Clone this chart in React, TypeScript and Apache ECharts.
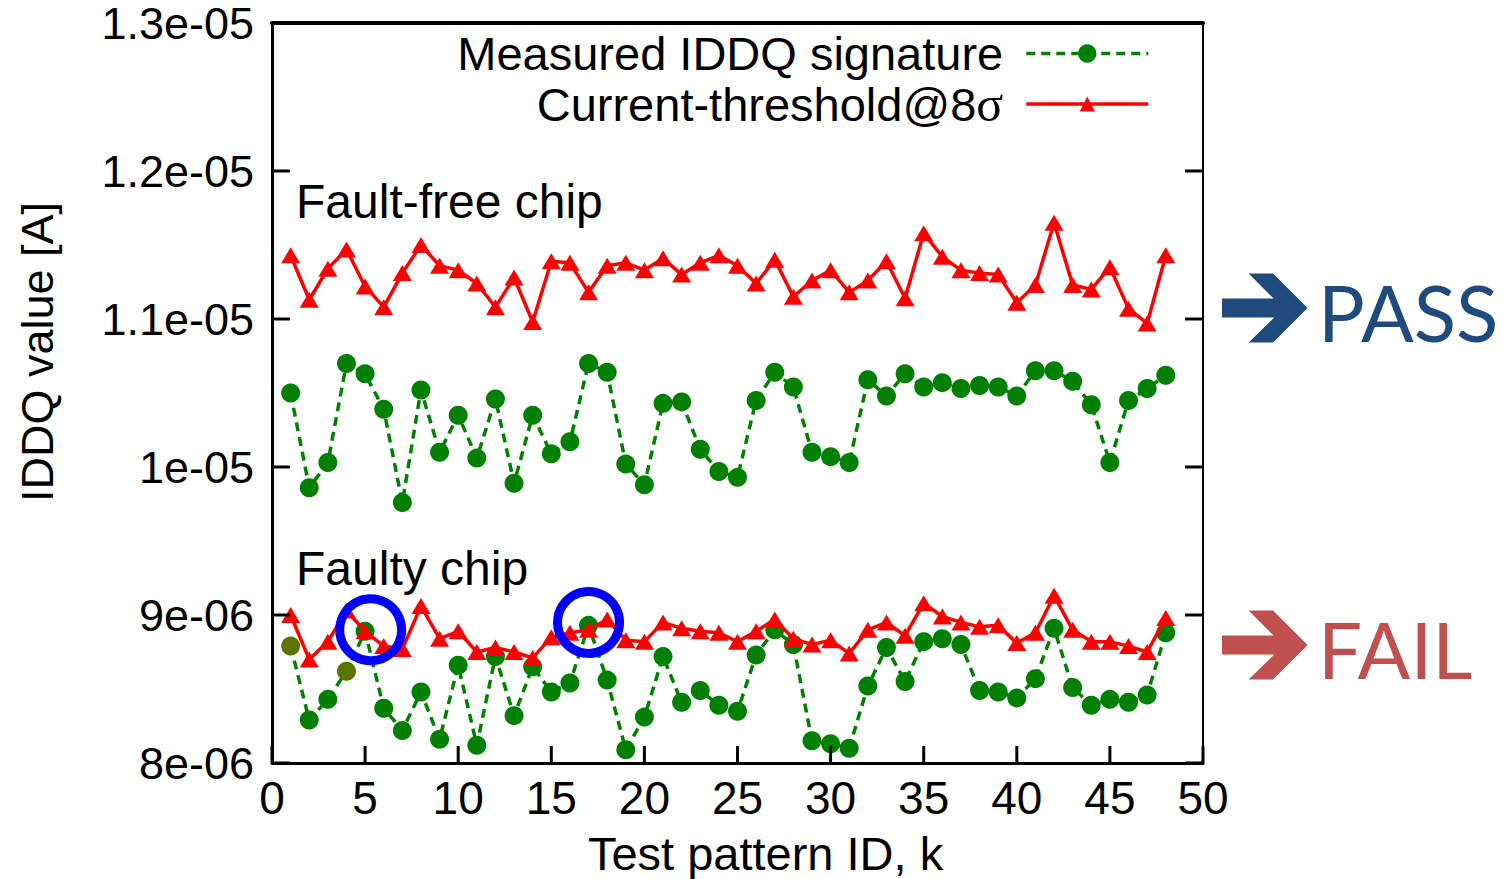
import React, { useEffect, useRef } from "react";
import * as echarts from "echarts";

// Test pattern IDs (k) on the x axis
const patternIds = [
  1, 2, 3, 4, 5, 6, 7, 8, 9, 10, 11, 12, 13, 14, 15, 16, 17, 18, 19, 20, 21, 22, 23, 24,
  25, 26, 27, 28, 29, 30, 31, 32, 33, 34, 35, 36, 37, 38, 39, 40, 41, 42, 43, 44, 45, 46, 47, 48,
];

// All current values below are in microamperes (scaled to amperes when plotted)
const faultFreeThreshold = [
  11.43, 11.13, 11.34, 11.47, 11.22, 11.08, 11.31, 11.5, 11.36, 11.33,
  11.24, 11.08, 11.28, 10.98, 11.39, 11.38, 11.18, 11.36, 11.38, 11.33,
  11.41, 11.3, 11.38, 11.43, 11.36, 11.24, 11.4, 11.15, 11.26, 11.33,
  11.18, 11.26, 11.39, 11.14, 11.58, 11.42, 11.33, 11.31, 11.3, 11.11,
  11.23, 11.65, 11.23, 11.2, 11.35, 11.07, 10.97, 11.43,
];
const faultFreeMeasured = [
  10.5, 9.86, 10.03, 10.7, 10.63, 10.39, 9.76, 10.52, 10.1, 10.35,
  10.06, 10.46, 9.89, 10.35, 10.09, 10.17, 10.7, 10.64, 10.02, 9.88,
  10.43, 10.44, 10.12, 9.97, 9.93, 10.45, 10.64, 10.54, 10.1, 10.07,
  10.03, 10.59, 10.48, 10.63, 10.54, 10.57, 10.53, 10.55, 10.54, 10.48,
  10.65, 10.65, 10.58, 10.42, 10.03, 10.45, 10.53, 10.62,
];
const faultyThreshold = [
  9.0, 8.7, 8.82, 9.03, 8.89, 8.79, 8.77, 9.06, 8.84, 8.89,
  8.75, 8.78, 8.75, 8.71, 8.85, 8.88, 8.9, 8.97, 8.83, 8.82,
  8.95, 8.91, 8.89, 8.88, 8.82, 8.89, 8.97, 8.84, 8.8, 8.83,
  8.74, 8.9, 8.95, 8.86, 9.08, 8.99, 8.95, 8.92, 8.93, 8.81,
  8.88, 9.13, 8.9, 8.82, 8.82, 8.79, 8.75, 8.98,
];
const faultyMeasured = [
  8.79, 8.29, 8.43, 8.62, 8.89, 8.37, 8.22, 8.48, 8.16, 8.66,
  8.12, 8.72, 8.32, 8.65, 8.48, 8.54, 8.93, 8.56, 8.09, 8.31,
  8.72, 8.41, 8.49, 8.39, 8.35, 8.73, 8.9, 8.8, 8.15, 8.13,
  8.1, 8.52, 8.78, 8.55, 8.82, 8.84, 8.8, 8.49, 8.48, 8.44,
  8.57, 8.91, 8.51, 8.39, 8.43, 8.41, 8.46, 8.88,
];
// Patterns whose faulty-chip markers are drawn in olive
const olivePatterns = [1, 4];
// Circled spots where the faulty chip exceeds the threshold: [k, μA]
const flaggedSpots = [
  [5.3, 8.9],
  [17.0, 8.95],
];

// Tick positions for the inward frame ticks
const xTickValues = [0, 5, 10, 15, 20, 25, 30, 35, 40, 45, 50];
const yTickValuesUA = [8, 9, 10, 11, 12, 13];

const MEASURED = "Measured IDDQ signature";
const THRESHOLD = "Current-threshold@8σ";
const SANS = "'Liberation Sans', Arial, sans-serif";

const toAmps = (ua: number) => ua * 1e-6;

const gnuplotExp = (v: number) => {
  const s = Number(v.toPrecision(6)).toExponential();
  return s.replace(/e([+-])(\d)$/, "e$10$2");
};

// Arrow outline (pixel offsets relative to the arrow's left/middle point)
const arrowShape = [
  [0, -9.5],
  [51.6, -9.5],
  [26.6, -34.5],
  [51, -34.5],
  [85.6, 0],
  [51, 34.5],
  [26.6, 34.5],
  [52.3, 9.5],
  [0, 9.5],
];
const arrowAt = (x: number, y: number) => arrowShape.map(([dx, dy]) => [x + dx, y + dy]);

// Shared y scale (amperes)
const Y_MIN = 8e-6;
const Y_MAX = 1.3e-5;
const Y_STEP = 1e-6;

// Plot frame in pixels
const GRID_LEFT = 272;
const GRID_RIGHT = 300;
const GRID_TOP = 23;
const GRID_BOTTOM = 116;
const CHART_W = 1503;
const CHART_H = 879;
const TICK_LEN = 18;

export default function App() {
  const ref = useRef<HTMLDivElement>(null);

  useEffect(() => {
    if (!ref.current) return;
    const chart = echarts.init(ref.current, undefined, { renderer: "svg" });

    const measuredLine = {
      color: "#008000",
      width: 3.5,
      type: [9, 6] as number[],
    };
    const thresholdLine = { color: "#ff0000", width: 3.5, type: "solid" as const };

    const pairs = (vals: number[]) => patternIds.map((k, i) => [k, toAmps(vals[i])]);

    const legendText = {
      fontFamily: SANS,
      fontSize: 47,
      color: "#000",
      lineHeight: 44,
      padding: [0, 18, 0, 0],
    };

    const decorations: any[] = [
      {
        type: "text",
        x: 296,
        y: 201,
        style: {
          text: "Fault-free chip",
          font: `48px ${SANS}`,
          fill: "#000",
          verticalAlign: "middle",
        },
      },
      {
        type: "text",
        x: 296,
        y: 568,
        style: {
          text: "Faulty chip",
          font: `48px ${SANS}`,
          fill: "#000",
          verticalAlign: "middle",
        },
      },
      {
        type: "polygon",
        shape: { points: arrowAt(1222, 308) },
        style: { fill: "#1f4a7d" },
      },
      {
        type: "text",
        x: 1318,
        y: 312,
        style: {
          text: "PASS",
          font: `78px Lato, 'Open Sans', sans-serif`,
          fill: "#1f4a7d",
          verticalAlign: "middle",
        },
      },
      {
        type: "polygon",
        shape: { points: arrowAt(1222, 645) },
        style: { fill: "#c0504d" },
      },
      {
        type: "text",
        x: 1318,
        y: 649,
        style: {
          text: "FAIL",
          font: `78px Lato, 'Open Sans', sans-serif`,
          fill: "#c0504d",
          verticalAlign: "middle",
        },
      },
    ];

    const option: any = {
      animation: false,
      backgroundColor: "#ffffff",
      grid: {
        left: GRID_LEFT,
        right: GRID_RIGHT,
        top: GRID_TOP,
        bottom: GRID_BOTTOM,
        show: true,
        borderColor: "#000",
        borderWidth: 2,
        containLabel: false,
        outerBoundsMode: "none",
      },
      legend: [
        {
          data: [MEASURED],
          right: 353,
          top: 30,
          padding: 0,
          align: "right",
          itemWidth: 122,
          itemHeight: 23,
          selectedMode: false,
          lineStyle: { width: 3.5 },
          textStyle: legendText,
        },
        {
          data: [THRESHOLD],
          right: 353,
          top: 79,
          padding: 0,
          align: "right",
          itemWidth: 122,
          itemHeight: 19,
          selectedMode: false,
          lineStyle: { width: 3.5 },
          formatter: (name: string) => name.replace("σ", "{s|σ}"),
          textStyle: {
            ...legendText,
            rich: {
              s: {
                fontFamily: "'Liberation Serif', 'Times New Roman', serif",
                fontSize: 50,
                color: "#000",
                lineHeight: 44,
              },
            },
          },
        },
      ],
      xAxis: [
        {
          type: "value",
          min: 0,
          max: 50,
          interval: 5,
          name: "Test pattern ID, k",
          nameLocation: "middle",
          nameGap: 67,
          nameTextStyle: {
            fontFamily: SANS,
            fontSize: 47,
            color: "#000",
            padding: [0, 0, 0, 56],
          },
          axisLine: { show: true, onZero: false, lineStyle: { color: "#000", width: 3 } },
          axisTick: { show: false },
          axisLabel: { fontFamily: SANS, fontSize: 46, color: "#000", margin: 12 },
          splitLine: { show: false },
        },
        {
          type: "value",
          position: "top",
          min: 0,
          max: 50,
          interval: 5,
          axisLine: { show: true, onZero: false, lineStyle: { color: "#000", width: 4 } },
          axisTick: { show: false },
          axisLabel: { show: false },
          splitLine: { show: false },
        },
      ],
      yAxis: [
        {
          type: "value",
          position: "left",
          min: Y_MIN,
          max: Y_MAX,
          interval: Y_STEP,
          name: "IDDQ value [A]",
          nameLocation: "middle",
          nameGap: 212,
          nameTextStyle: {
            fontFamily: SANS,
            fontSize: 45,
            color: "#000",
            padding: [0, 0, 0, 82],
          },
          axisLine: { show: true, onZero: false, lineStyle: { color: "#000", width: 3 } },
          axisTick: { show: false },
          axisLabel: {
            fontFamily: SANS,
            fontSize: 45,
            color: "#000",
            margin: 18,
            formatter: (v: number) => gnuplotExp(v),
          },
          splitLine: { show: false },
        },
        {
          type: "value",
          position: "right",
          min: Y_MIN,
          max: Y_MAX,
          interval: Y_STEP,
          axisLine: { show: true, onZero: false, lineStyle: { color: "#000", width: 2 } },
          axisTick: { show: false },
          axisLabel: { show: false },
          splitLine: { show: false },
        },
      ],
      series: [
        {
          name: MEASURED,
          type: "line",
          data: pairs(faultFreeMeasured),
          symbol: "circle",
          symbolSize: 19,
          showAllSymbol: true,
          lineStyle: measuredLine,
          itemStyle: { color: "#008000" },
          z: 2,
        },
        {
          name: MEASURED,
          type: "line",
          data: patternIds.map((k, i) => {
            const item: any = { value: [k, toAmps(faultyMeasured[i])] };
            if (olivePatterns.includes(k)) item.itemStyle = { color: "#5b7500" };
            return item;
          }),
          symbol: "circle",
          symbolSize: 19,
          showAllSymbol: true,
          lineStyle: measuredLine,
          itemStyle: { color: "#008000" },
          z: 2,
        },
        {
          name: THRESHOLD,
          type: "line",
          data: pairs(faultFreeThreshold),
          symbol: "triangle",
          symbolSize: [19, 16],
          showAllSymbol: true,
          lineStyle: thresholdLine,
          itemStyle: { color: "#ff0000" },
          z: 3,
        },
        {
          name: THRESHOLD,
          type: "line",
          data: pairs(faultyThreshold),
          symbol: "triangle",
          symbolSize: [19, 16],
          showAllSymbol: true,
          lineStyle: thresholdLine,
          itemStyle: { color: "#ff0000" },
          z: 3,
        },
        {
          name: "flagged",
          type: "scatter",
          data: flaggedSpots.map(([k, v]) => [k, toAmps(v)]),
          symbol: "circle",
          symbolSize: 62,
          itemStyle: {
            color: "rgba(0,0,0,0)",
            borderColor: "#0000ff",
            borderWidth: 9,
            opacity: 1,
          },
          z: 5,
          silent: true,
        },
      ],
      graphic: decorations,
    };

    chart.setOption(option);

    // Inward frame ticks (left, right and bottom), placed through the axes' own scales
    const xLeft = GRID_LEFT;
    const xRight = CHART_W - GRID_RIGHT;
    const yBottom = CHART_H - GRID_BOTTOM;
    const tickStyle = { stroke: "#000", lineWidth: 3 };
    const ticks: any[] = [];
    yTickValuesUA.forEach((ua) => {
      const py = chart.convertToPixel({ yAxisIndex: 0 }, toAmps(ua)) as number;
      ticks.push({
        type: "line",
        z: 10,
        shape: { x1: xLeft, y1: py, x2: xLeft + TICK_LEN, y2: py },
        style: tickStyle,
      });
      ticks.push({
        type: "line",
        z: 10,
        shape: { x1: xRight - TICK_LEN, y1: py, x2: xRight, y2: py },
        style: tickStyle,
      });
    });
    xTickValues.forEach((k) => {
      const px = chart.convertToPixel({ xAxisIndex: 0 }, k) as number;
      ticks.push({
        type: "line",
        z: 10,
        shape: { x1: px, y1: yBottom, x2: px, y2: yBottom - 17 },
        style: tickStyle,
      });
    });
    chart.setOption({ graphic: [...decorations, ...ticks] });

    return () => chart.dispose();
  }, []);

  return (
    <div
      ref={ref}
      style={{ position: "fixed", left: 0, top: 0, width: CHART_W, height: CHART_H, background: "#fff" }}
    />
  );
}
